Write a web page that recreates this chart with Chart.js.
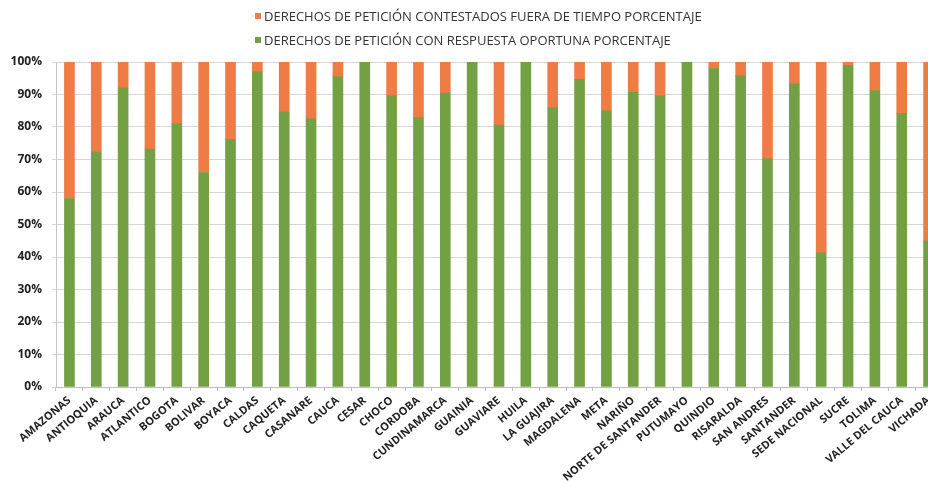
<!DOCTYPE html>
<html>
<head>
<meta charset="utf-8">
<script src="https://cdn.jsdelivr.net/npm/chart.js@4"></script>
<style>
  html, body { margin: 0; padding: 0; background: #fff; overflow: hidden; }
  #frame { position: relative; width: 928px; height: 481px; overflow: hidden; }
  #wrap { position: absolute; left: 0; top: 0; width: 942px; height: 481px; }
  #legend { position: absolute; left: 255px; top: 4px; font-family: "Open Sans", sans-serif; font-size: 13px; color: #333; }
  #legend .item { display: flex; align-items: center; height: 24px; white-space: nowrap; }
  #legend .box { width: 6px; height: 6px; margin-right: 3px; }
</style>
</head>
<body>
<div id="frame">
  <div id="wrap"><canvas id="c"></canvas></div>
  <div id="legend"></div>
</div>
<script>
// Regions / offices
const categories = [
  "AMAZONAS", "ANTIOQUIA", "ARAUCA", "ATLANTICO", "BOGOTA", "BOLIVAR", "BOYACA",
  "CALDAS", "CAQUETA", "CASANARE", "CAUCA", "CESAR", "CHOCO", "CORDOBA",
  "CUNDINAMARCA", "GUAINIA", "GUAVIARE", "HUILA", "LA GUAJIRA", "MAGDALENA",
  "META", "NARIÑO", "NORTE DE SANTANDER", "PUTUMAYO", "QUINDIO", "RISARALDA",
  "SAN ANDRES", "SANTANDER", "SEDE NACIONAL", "SUCRE", "TOLIMA",
  "VALLE DEL CAUCA", "VICHADA"
];

// Percentage answered on time
const oportuna = [
  58, 72.3, 92, 73.2, 81, 66, 76.2,
  97, 84.6, 82.5, 95.4, 100, 89.6, 82.9,
  90.4, 100, 80.6, 100, 85.9, 94.7,
  85, 90.7, 89.6, 100, 98, 95.8,
  70.2, 93.2, 41.3, 99, 91.2,
  84.2, 45
];

// Percentage answered late
const fueraDeTiempo = [
  42, 27.7, 8, 26.8, 19, 34, 23.8,
  3, 15.4, 17.5, 4.6, 0, 10.4, 17.1,
  9.6, 0, 19.4, 0, 14.1, 5.3,
  15, 9.3, 10.4, 0, 2, 4.2,
  29.8, 6.8, 58.7, 1, 8.8,
  15.8, 55
];

const yTicks = [0, 10, 20, 30, 40, 50, 60, 70, 80, 90, 100];

const GREEN = "#72a043";
const ORANGE = "#ef7b45";
const labelFont = { family: "Open Sans", size: 11, weight: "bold" };

const chart = new Chart(document.getElementById("c"), {
  type: "bar",
  data: {
    labels: categories,
    datasets: [
      { label: "DERECHOS DE PETICIÓN CON RESPUESTA OPORTUNA PORCENTAJE", data: oportuna, backgroundColor: GREEN, barThickness: 10 },
      { label: "DERECHOS DE PETICIÓN CONTESTADOS FUERA DE TIEMPO PORCENTAJE", data: fueraDeTiempo, backgroundColor: ORANGE, barThickness: 10 }
    ]
  },
  options: {
    responsive: true,
    maintainAspectRatio: false,
    animation: false,
    layout: { padding: { top: 62, right: 0, bottom: 0, left: 0 } },
    plugins: { legend: { display: false }, tooltip: { enabled: false } },
    scales: {
      x: {
        stacked: true,
        grid: { display: true, drawOnChartArea: false, offset: true, tickLength: 4, color: "#bdbdbd" },
        border: { color: "#bdbdbd" },
        ticks: { autoSkip: false, minRotation: 40, maxRotation: 40, color: "#222", font: labelFont, padding: 3 },
        afterFit: s => { s.height = 94; }
      },
      y: {
        stacked: true,
        min: 0,
        max: 100,
        afterBuildTicks: s => { s.ticks = yTicks.map(v => ({ value: v })); },
        grid: { color: "#d6d6d6", tickLength: 4 },
        border: { color: "#c8c8c8" },
        ticks: { color: "#222", font: { family: "Open Sans", size: 12, weight: "bold" }, padding: 10, callback: v => v + "%" },
        afterFit: s => { s.width = 56; }
      }
    }
  }
});

// Two-line legend, late answers listed first
const legend = document.getElementById("legend");
[1, 0].forEach(i => {
  const ds = chart.data.datasets[i];
  const row = document.createElement("div");
  row.className = "item";
  const box = document.createElement("span");
  box.className = "box";
  box.style.background = ds.backgroundColor;
  const txt = document.createElement("span");
  txt.textContent = ds.label;
  row.appendChild(box);
  row.appendChild(txt);
  legend.appendChild(row);
});
</script>
</body>
</html>
